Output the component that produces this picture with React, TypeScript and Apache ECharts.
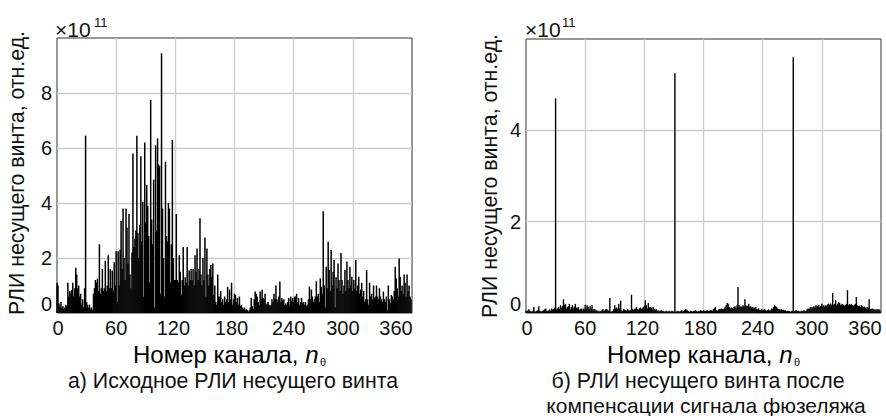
import React, { useEffect, useRef } from "react";
import * as echarts from "echarts";

// Channel values (×10^11), channels 0..359
const leftValues = [
  1.1, 1.0, 0.35, 0.25, 0.4, 0.2, 0.25, 0.15, 0.2, 0.3,
  0.25, 1.1, 0.6, 0.8, 0.7, 0.85, 1.1, 0.6, 0.9, 1.65,
  1.4, 0.9, 1.0, 0.6, 0.7, 0.3, 0.5, 0.2, 0.9, 6.45,
  0.4, 0.3, 0.2, 0.3, 0.15, 0.2, 0.1, 0.7, 0.9, 1.2,
  1.1, 1.25, 0.8, 2.5, 0.7, 0.9, 1.6, 0.8, 0.9, 1.9,
  0.8, 1.0, 2.1, 0.9, 1.6, 0.9, 1.55, 0.8, 1.85, 1.0,
  2.25, 0.4, 2.25, 1.0, 2.3, 3.35, 1.6, 3.8, 2.0, 1.2,
  3.8, 3.1, 1.8, 3.6, 1.4, 0.9, 2.2, 5.8, 2.4, 2.7,
  3.0, 6.45, 2.9, 2.0, 3.2, 5.7, 2.6, 4.05, 0.6, 6.2,
  3.3, 4.65, 3.9, 2.8, 1.1, 7.75, 3.4, 2.5, 4.85, 0.2,
  6.1, 3.0, 6.35, 5.4, 5.35, 0.7, 9.45, 3.8, 2.0, 0.6,
  5.5, 2.8, 2.6, 4.0, 3.8, 1.1, 2.5, 6.3, 2.0, 1.2,
  1.2, 3.6, 1.2, 1.1, 2.1, 1.5, 0.65, 1.2, 2.4, 1.0,
  1.3, 1.1, 2.4, 1.0, 1.55, 1.2, 1.6, 1.2, 1.6, 1.0,
  2.1, 1.5, 2.35, 1.2, 1.6, 3.45, 1.4, 1.0, 2.0, 1.2,
  2.75, 0.6, 2.35, 1.4, 1.0, 1.6, 1.75, 1.3, 1.8, 0.65,
  1.0, 0.4, 0.3, 1.4, 0.6, 0.6, 0.8, 0.4, 0.5, 0.3,
  0.6, 0.4, 0.5, 0.95, 0.4, 0.85, 0.5, 1.1, 0.3, 0.5,
  0.7, 0.65, 0.4, 0.55, 0.3, 0.6, 0.25, 0.3, 0.2, 0.15,
  0.2, 0.1, 0.15, 0.1, 0.05, 0.1, 0.2, 0.55, 0.25, 0.15,
  0.5, 0.78, 0.7, 0.6, 0.4, 0.3, 0.78, 0.5, 0.85, 0.55,
  0.5, 0.7, 0.3, 0.35, 0.4, 0.3, 0.25, 0.3, 0.5, 0.4,
  0.7, 0.5, 1.0, 0.5, 0.4, 0.6, 1.15, 0.4, 0.55, 0.45,
  0.5, 0.3, 0.35, 0.3, 0.4, 0.55, 0.3, 0.6, 0.45, 0.55,
  0.4, 0.6, 0.6, 0.7, 0.4, 0.55, 0.3, 0.4, 0.55, 0.35,
  0.4, 0.3, 0.4, 0.25, 0.3, 0.5, 0.96, 0.5, 0.85, 0.6,
  0.4, 0.5, 0.6, 1.15, 0.6, 0.7, 0.4, 1.26, 0.96, 0.7,
  3.7, 1.0, 0.2, 1.68, 0.9, 2.59, 1.56, 0.8, 2.29, 1.0,
  1.5, 1.93, 0.2, 1.3, 0.9, 1.8, 1.2, 0.8, 2.18, 1.2,
  0.7, 1.0, 1.56, 0.8, 1.87, 1.2, 0.9, 1.68, 1.0, 1.32,
  0.8, 1.2, 0.9, 1.93, 0.8, 1.0, 1.32, 0.7, 0.85, 1.1,
  0.6, 0.8, 0.4, 0.5, 1.56, 0.5, 0.3, 1.1, 0.6, 0.7,
  0.5, 1.0, 0.55, 0.6, 1.0, 0.6, 0.5, 0.9, 0.6, 0.5,
  0.4, 0.78, 0.5, 0.4, 0.6, 0.1, 1.0, 0.5, 0.35, 0.65,
  0.6, 0.5, 0.8, 1.68, 1.26, 0.9, 0.6, 1.98, 1.32, 0.8,
  1.0, 0.7, 1.4, 1.1, 0.6, 1.4, 0.8, 1.0, 0.6, 0.5,
];

const rightValues = [
  0.05, 0.04, 0.06, 0.08, 0.05, 0.04, 0.03, 0.05, 0.13, 0.04,
  0.03, 0.05, 0.06, 0.15, 0.05, 0.04, 0.03, 0.05, 0.06, 0.08,
  0.1, 0.05, 0.04, 0.06, 0.08, 0.05, 0.1, 0.07, 0.09, 0.12,
  4.7, 0.08, 0.1, 0.13, 0.09, 0.17, 0.12, 0.15, 0.3, 0.17,
  0.2, 0.1, 0.13, 0.15, 0.2, 0.08, 0.13, 0.17, 0.1, 0.14,
  0.2, 0.12, 0.1, 0.13, 0.07, 0.08, 0.1, 0.06, 0.1, 0.08,
  0.18, 0.1, 0.17, 0.13, 0.08, 0.15, 0.1, 0.17, 0.06, 0.09,
  0.08, 0.05, 0.06, 0.04, 0.05, 0.03, 0.05, 0.06, 0.08, 0.05,
  0.06, 0.09, 0.08, 0.06, 0.05, 0.33, 0.04, 0.03, 0.05, 0.08,
  0.17, 0.1, 0.12, 0.08, 0.2, 0.1, 0.27, 0.06, 0.04, 0.09,
  0.07, 0.06, 0.05, 0.09, 0.06, 0.05, 0.06, 0.4, 0.09, 0.07,
  0.08, 0.1, 0.13, 0.09, 0.07, 0.1, 0.12, 0.09, 0.1, 0.13,
  0.16, 0.28, 0.17, 0.1, 0.22, 0.12, 0.13, 0.12, 0.08, 0.13,
  0.09, 0.07, 0.08, 0.05, 0.06, 0.04, 0.05, 0.06, 0.04, 0.05,
  0.04, 0.03, 0.05, 0.04, 0.03, 0.05, 0.04, 0.03, 0.05, 0.04,
  0.03, 5.25, 0.04, 0.03, 0.05, 0.04, 0.03, 0.05, 0.06, 0.04,
  0.05, 0.06, 0.09, 0.07, 0.05, 0.04, 0.03, 0.05, 0.04, 0.03,
  0.05, 0.04, 0.06, 0.04, 0.03, 0.05, 0.04, 0.06, 0.05, 0.04,
  0.06, 0.05, 0.04, 0.05, 0.06, 0.04, 0.05, 0.07, 0.06, 0.05,
  0.08, 0.1, 0.13, 0.06, 0.05, 0.07, 0.09, 0.08, 0.1, 0.09,
  0.08, 0.1, 0.14, 0.17, 0.22, 0.2, 0.13, 0.1, 0.12, 0.11,
  0.09, 0.13, 0.15, 0.1, 0.17, 0.57, 0.17, 0.13, 0.15, 0.13,
  0.17, 0.14, 0.3, 0.17, 0.15, 0.16, 0.2, 0.13, 0.15, 0.12,
  0.13, 0.1, 0.12, 0.13, 0.09, 0.08, 0.1, 0.06, 0.07, 0.09,
  0.06, 0.07, 0.09, 0.06, 0.05, 0.06, 0.08, 0.05, 0.06, 0.1,
  0.09, 0.13, 0.17, 0.15, 0.13, 0.1, 0.09, 0.08, 0.07, 0.09,
  0.06, 0.07, 0.05, 0.06, 0.04, 0.05, 0.04, 0.05, 0.03, 0.04,
  0.05, 5.6, 0.04, 0.05, 0.06, 0.04, 0.05, 0.04, 0.03, 0.05,
  0.04, 0.05, 0.06, 0.04, 0.05, 0.08, 0.1, 0.09, 0.12, 0.13,
  0.1, 0.13, 0.15, 0.12, 0.17, 0.14, 0.15, 0.17, 0.13, 0.16,
  0.2, 0.15, 0.17, 0.13, 0.17, 0.15, 0.19, 0.2, 0.17, 0.21,
  0.17, 0.44, 0.18, 0.2, 0.28, 0.17, 0.2, 0.24, 0.22, 0.17,
  0.19, 0.2, 0.17, 0.16, 0.18, 0.2, 0.5, 0.17, 0.2, 0.18,
  0.2, 0.17, 0.15, 0.18, 0.2, 0.35, 0.17, 0.15, 0.16, 0.13,
  0.17, 0.15, 0.13, 0.14, 0.12, 0.1, 0.13, 0.12, 0.3, 0.09,
  0.08, 0.1, 0.09, 0.07, 0.08, 0.06, 0.09, 0.07, 0.08, 0.06,
];

const xTicks = [0, 60, 120, 180, 240, 300, 360];
// horizontal nudge of each x tick label in the reference (px, + = right)
const xLabelShift = [1, 0, -2, -3, -5, -10, -16];
const leftYMax = 10;
const rightYMax = 6;

const yTitle = "РЛИ несущего винта, отн.ед.";
const xTitle = "Номер канала, ";
const captionLeft = "а) Исходное РЛИ несущего винта";
const captionRight1 = "б) РЛИ несущего винта после";
const captionRight2 = "компенсации сигнала фюзеляжа";

const FONT = "'Liberation Sans', Arial, Helvetica, sans-serif";
const INK = "#111";

function xRich() {
  const r: Record<string, any> = {};
  xTicks.forEach((t, i) => {
    const s = xLabelShift[i];
    r["t" + t] = {
      fontSize: 20,
      fontFamily: FONT,
      color: INK,
      padding: s >= 0 ? [0, 0, 0, 2 * s] : [0, -2 * s, 0, 0],
    };
  });
  return r;
}

function makeX(gridIndex: number) {
  return {
    type: "value",
    gridIndex,
    min: 0,
    max: 360,
    interval: 60,
    axisLine: { show: false },
    axisTick: { show: false },
    splitLine: {
      show: true,
      showMinLine: false,
      showMaxLine: false,
      lineStyle: { color: "#cccccc", width: 1.3 },
    },
    axisLabel: {
      margin: 5,
      formatter: (v: number) => `{t${v}|${v}}`,
      rich: xRich(),
    },
  };
}

function makeY(gridIndex: number, max: number) {
  return {
    type: "value",
    gridIndex,
    min: 0,
    max,
    interval: 2,
    axisLine: { show: false },
    axisTick: { show: false },
    splitLine: {
      show: true,
      showMinLine: false,
      showMaxLine: false,
      lineStyle: { color: "#cccccc", width: 1.3 },
    },
    axisLabel: {
      margin: 5,
      showMaxLabel: false,
      formatter: (v: number) => (v === max ? "" : v === 0 ? "{z|0}" : `{n|${v}}`),
      rich: {
        z: { fontSize: 20, fontFamily: FONT, color: INK, padding: [0, 0, 18, 0] },
        n: { fontSize: 20, fontFamily: FONT, color: INK },
      },
    },
  };
}

function txt(x: number, y: number, text: string, size: number, align = "center", extra: any = {}) {
  return {
    type: "text",
    x,
    y,
    ...extra,
    style: {
      text,
      fontSize: size,
      fontFamily: FONT,
      fill: INK,
      align,
      verticalAlign: "middle",
    },
  };
}

export default function App() {
  const ref = useRef<HTMLDivElement>(null);
  useEffect(() => {
    if (!ref.current) return;
    const chart = echarts.init(ref.current, undefined, { renderer: "svg" });
    const titleRich = {
      a: { fontSize: 24, fontFamily: FONT, color: INK },
      i: { fontSize: 24, fontFamily: FONT, color: INK, fontStyle: "italic" },
    };
    chart.setOption({
      animation: false,
      backgroundColor: "#ffffff",
      grid: [
        { left: 57, top: 38, width: 355, height: 275, show: true, borderColor: "#333", borderWidth: 1, backgroundColor: "transparent" },
        { left: 526, top: 39, width: 355, height: 274, show: true, borderColor: "#333", borderWidth: 1, backgroundColor: "transparent" },
      ],
      xAxis: [makeX(0), makeX(1)],
      yAxis: [makeY(0, leftYMax), makeY(1, rightYMax)],
      series: [
        {
          type: "bar",
          xAxisIndex: 0,
          yAxisIndex: 0,
          barWidth: 1.5,
          itemStyle: { color: "#000" },
          data: leftValues.map((v, i) => [i, v]),
        },
        {
          type: "bar",
          xAxisIndex: 1,
          yAxisIndex: 1,
          barWidth: 1.4,
          itemStyle: { color: "#000" },
          data: rightValues.map((v, i) => [i, v]),
        },
      ],
      graphic: [
        txt(17, 173, yTitle, 21.3, "center", { rotation: Math.PI / 2 }),
        txt(490, 176, yTitle, 21.3, "center", { rotation: Math.PI / 2 }),
        txt(55, 29, "×10", 21, "left"),
        txt(94, 22, "11", 13, "left"),
        txt(525, 29, "×10", 21, "left"),
        txt(562, 22, "11", 13, "left"),
        {
          type: "text",
          x: 133,
          y: 354,
          style: { text: `{a|${xTitle}}{i|n}`, rich: titleRich, align: "left", verticalAlign: "middle" },
        },
        txt(320, 362, "θ", 11, "left"),
        {
          type: "text",
          x: 607,
          y: 354,
          style: { text: `{a|${xTitle}}{i|n}`, rich: titleRich, align: "left", verticalAlign: "middle" },
        },
        txt(794, 362, "θ", 11, "left"),
        txt(233, 381, captionLeft, 21.3),
        txt(698, 381, captionRight1, 21.3),
        txt(706, 405, captionRight2, 21),
      ],
    });
    return () => chart.dispose();
  }, []);
  return (
    <div
      ref={ref}
      style={{ position: "fixed", left: 0, top: 0, width: 886, height: 416, background: "#fff" }}
    />
  );
}
